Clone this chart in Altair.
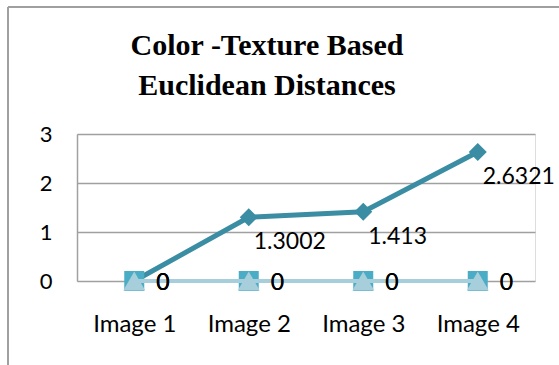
import altair as alt
import pandas as pd

# Chart values
categories = ["Image 1", "Image 2", "Image 3", "Image 4"]
series_names = ["Series1", "Series2", "Series3"]
color_texture = [0, 1.3002, 1.413, 2.6321]
series2_values = [0, 0, 0, 0]
series3_values = [0, 0, 0, 0]
y_ticks = [0, 1, 2, 3]
title_lines = ["Color -Texture Based", "Euclidean Distances"]

rows = []
for name, vals in zip(series_names, [color_texture, series2_values, series3_values]):
    for cat, v in zip(categories, vals):
        rows.append({"image": cat, "series": name, "value": v, "label": f"{v:g}"})
df = pd.DataFrame(rows)
single = pd.DataFrame({"k": [0]})

LABEL_FONT = "Lato"
GRID = "#A0A0A0"

x_enc = alt.X(
    "image:N",
    sort=categories,
    scale=alt.Scale(domain=categories),
    axis=alt.Axis(
        title=None, labelAngle=0, ticks=False, domain=False, grid=False,
        labelFont=LABEL_FONT, labelFontSize=24, labelColor="#000000",
        labelPadding=31,
    ),
)
y_enc = alt.Y(
    "value:Q",
    scale=alt.Scale(domain=[0, 3], nice=False),
    axis=alt.Axis(
        title=None, values=y_ticks, ticks=False, domain=True, domainColor=GRID,
        domainWidth=1.5, grid=True, gridColor=GRID, gridWidth=1.5,
        labelFont=LABEL_FONT, labelFontSize=22, labelColor="#000000",
        labelPadding=25, format="d",
    ),
)

base = alt.Chart(df)

def series_layers(name, color, line_color, line_width, shape, size):
    src = base.transform_filter(alt.datum.series == name)
    line = src.mark_line(color=line_color, strokeWidth=line_width).encode(x=x_enc, y=y_enc)
    pts = src.mark_point(
        shape=shape, size=size, filled=True, color=color, opacity=1
    ).encode(x=x_enc, y=y_enc)
    return [line, pts]

s1 = series_layers("Series1", "#3A8DA3", "#3A8DA3", 5, "diamond", 324)
s2 = series_layers("Series2", "#4BACC6", "#9CC7D5", 4, "square", 400)
s3 = series_layers("Series3", "#A6CEDB", "#A6CEDB", 4, "triangle-up", 484)

# value labels: zeros sit to the right of their markers, the rest below-right
zero_labels = base.transform_filter(alt.datum.value == 0).mark_text(
    align="left", baseline="middle", dx=22, dy=2,
    font=LABEL_FONT, fontSize=23, color="#000000",
).encode(x=x_enc, y=y_enc, text="label:N")
value_labels = base.transform_filter(alt.datum.value > 0).mark_text(
    align="left", baseline="middle", dx=5, dy=25,
    font=LABEL_FONT, fontSize=23, color="#000000",
).encode(x=x_enc, y=y_enc, text="label:N")

# outer frame edges of the chart area
frame_left = alt.Chart(single).mark_rule(color="#A0A0A0", strokeWidth=2).encode(
    x=alt.value(-69), y=alt.value(-127), y2=alt.value(240)
)
frame_top = alt.Chart(single).mark_rule(color="#A0A0A0", strokeWidth=2).encode(
    x=alt.value(-69), x2=alt.value(500), y=alt.value(-127)
)

# two-line bold serif heading
title_marks = [
    alt.Chart(single).mark_text(
        font="Liberation Serif", fontSize=30, fontWeight="bold", color="#000000",
        align="center", baseline="alphabetic",
    ).encode(x=alt.value(190), y=alt.value(y), text=alt.value(line))
    for line, y in zip(title_lines, [-79, -39])
]

chart = alt.layer(
    frame_left, frame_top, *title_marks, *s1, *s2, *s3, zero_labels, value_labels
).properties(
    width=458,
    height=147,
    autosize=alt.AutoSizeParams(type="none"),
    padding={"left": 77, "top": 134, "right": 24, "bottom": 84},
).configure_view(stroke=None).configure(background="#FFFFFF")

chart.save("out.html", embed_options={"renderer": "svg", "actions": False})
